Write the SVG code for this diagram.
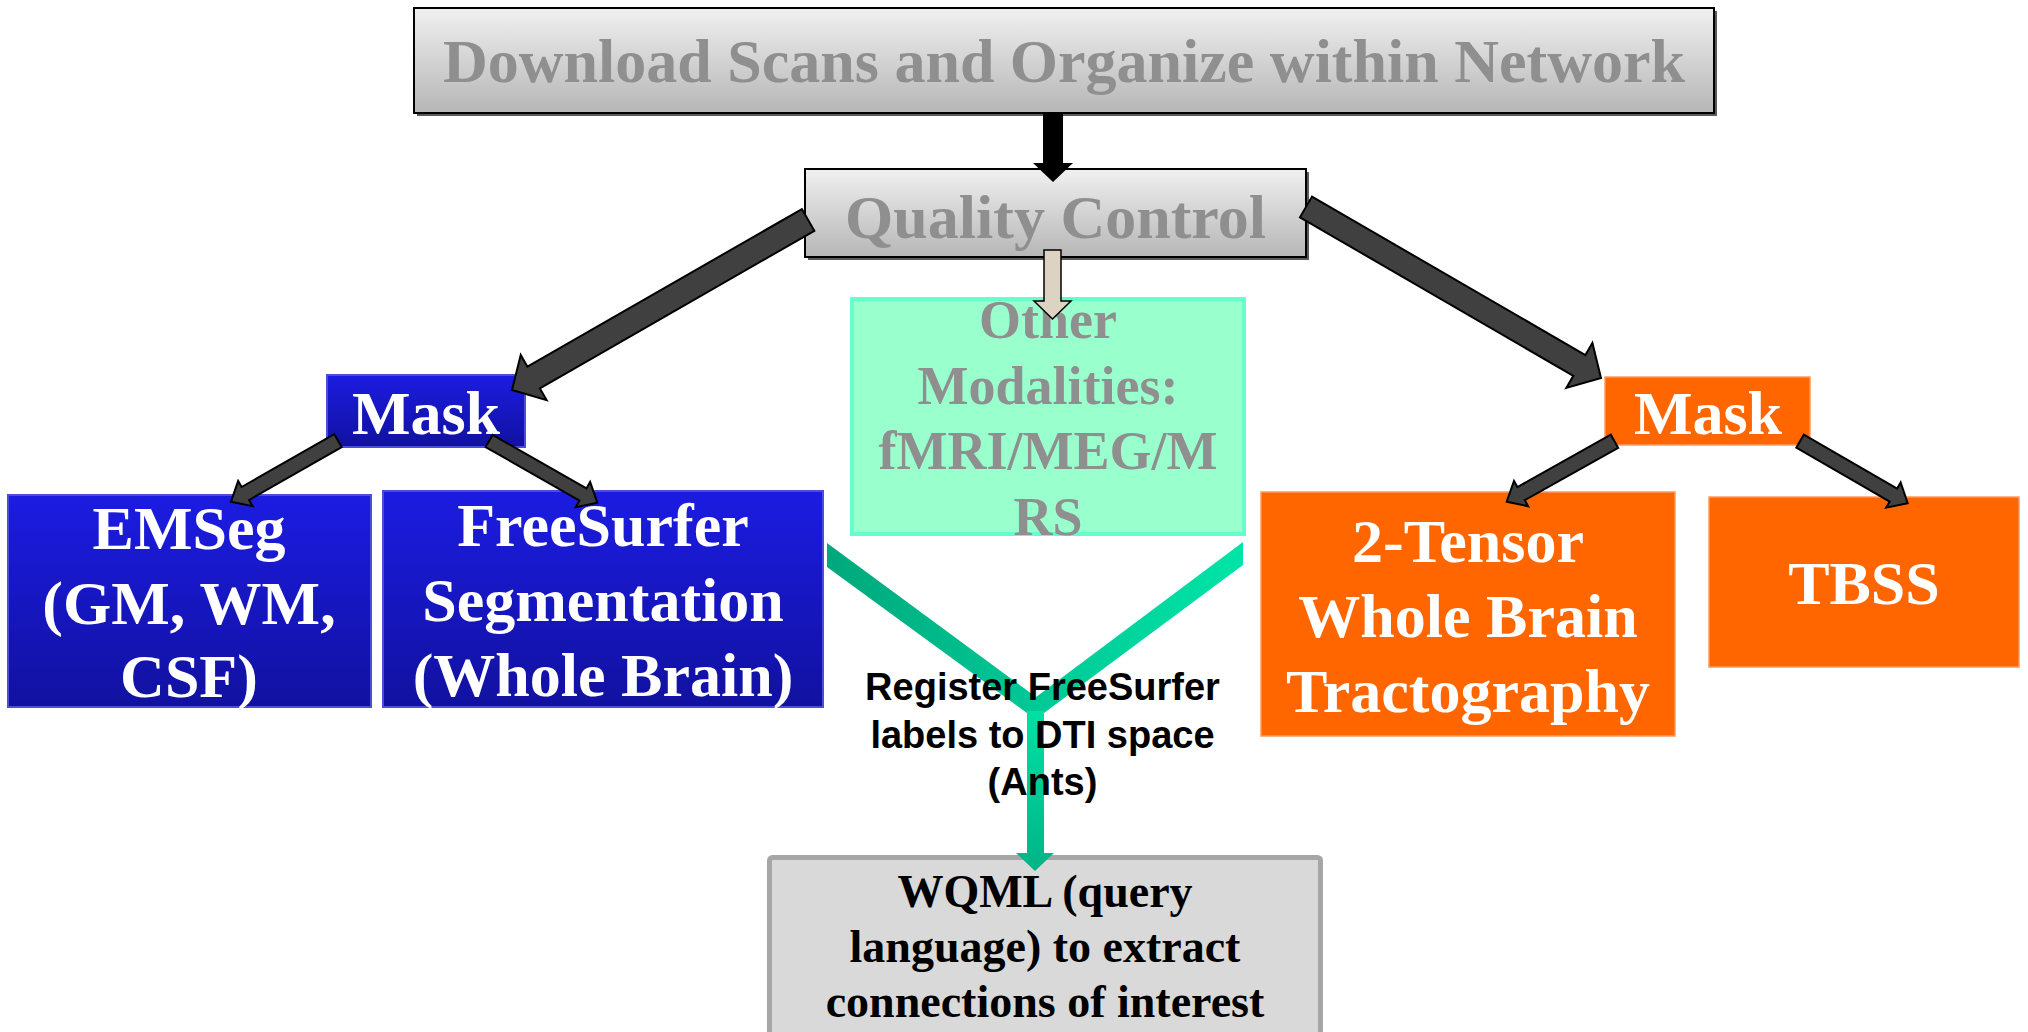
<svg xmlns="http://www.w3.org/2000/svg" width="2028" height="1032" viewBox="0 0 2028 1032">
<defs>
<linearGradient id="gGray" x1="0" y1="0" x2="0" y2="1"><stop offset="0" stop-color="#f0f0f0"/><stop offset="1" stop-color="#b6b6b6"/></linearGradient>
<linearGradient id="gBlue" x1="0" y1="0" x2="0" y2="1"><stop offset="0" stop-color="#1c1ce2"/><stop offset="1" stop-color="#1111a0"/></linearGradient>
<linearGradient id="gArms" x1="827" y1="0" x2="1243" y2="0" gradientUnits="userSpaceOnUse"><stop offset="0" stop-color="#00a87b"/><stop offset="0.5" stop-color="#00c896"/><stop offset="1" stop-color="#00e4a7"/></linearGradient>
<linearGradient id="gStem" x1="0" y1="705" x2="0" y2="871" gradientUnits="userSpaceOnUse"><stop offset="0" stop-color="#00e2a5"/><stop offset="1" stop-color="#00b486"/></linearGradient>
</defs>
<style>
.gray{fill:url(#gGray);stroke:#000;stroke-width:2}
.shadow{fill:#5a5a5a}
.blue{fill:url(#gBlue);stroke:#4d4dd8;stroke-width:2}
.orange{fill:#ff6600;stroke:#ff9a5c;stroke-width:1.5}
.serif{font-family:"Liberation Serif","Times New Roman",serif;font-weight:bold;text-anchor:middle}
.t62{font-size:62px}
.gt{fill:#8f8f8f}
.wt{fill:#ffffff}
.blk{fill:#000000}
.arr{fill:#404040;stroke:#000;stroke-width:2;stroke-linejoin:miter}
.lbl{font-family:"Liberation Sans",Arial,sans-serif;font-weight:bold;font-size:38px;text-anchor:middle;fill:#000}
</style>
<rect width="2028" height="1032" fill="#ffffff"/>

<g id="download">
<rect class="shadow" x="417" y="11" width="1300" height="105"/>
<rect class="gray" x="414" y="8" width="1300" height="105"/>
<text class="serif t62 gt" x="1064" y="82">Download Scans and Organize within Network</text>
</g>

<g id="quality-control">
<rect class="shadow" x="808" y="172" width="501" height="88"/>
<rect class="gray" x="805" y="169" width="501" height="88"/>
<text class="serif t62 gt" x="1055.5" y="238">Quality Control</text>
</g>

<g id="mask-left">
<rect class="blue" x="327" y="375" width="198" height="72"/>
<text class="serif t62 wt" x="426" y="434">Mask</text>
</g>

<g id="emseg">
<rect class="blue" x="8" y="495" width="363" height="212"/>
<text class="serif t62 wt" x="189" y="549">EMSeg</text>
<text class="serif t62 wt" x="189" y="624">(GM, WM,</text>
<text class="serif t62 wt" x="189" y="697">CSF)</text>
</g>

<g id="freesurfer">
<rect class="blue" x="383" y="491" width="440" height="216"/>
<text class="serif t62 wt" x="603" y="545.5">FreeSurfer</text>
<text class="serif t62 wt" x="603" y="621">Segmentation</text>
<text class="serif t62 wt" x="603" y="696">(Whole Brain)</text>
</g>

<g id="other-modalities">
<rect x="852" y="299" width="392" height="235" fill="#99ffcc" stroke="#66ffcc" stroke-width="4"/>
<text class="serif gt" font-size="54" x="1048" y="338">Other</text>
<text class="serif gt" font-size="54" x="1048" y="404">Modalities:</text>
<text class="serif gt" font-size="54" x="1048" y="469">fMRI/MEG/M</text>
<text class="serif gt" font-size="54" x="1048" y="535">RS</text>
</g>

<g id="mask-right">
<rect class="orange" x="1605" y="377" width="205" height="68"/>
<text class="serif t62 wt" x="1708" y="434">Mask</text>
</g>

<g id="tensor">
<rect class="orange" x="1261" y="492" width="414" height="244"/>
<text class="serif t62 wt" x="1468" y="562">2-Tensor</text>
<text class="serif t62 wt" x="1468" y="637">Whole Brain</text>
<text class="serif t62 wt" x="1468" y="712">Tractography</text>
</g>

<g id="tbss">
<rect class="orange" x="1709" y="497" width="310" height="170"/>
<text class="serif t62 wt" x="1864" y="604">TBSS</text>
</g>

<g id="wqml">
<rect x="769.5" y="857.5" width="551" height="200" rx="3" fill="#d9d9d9" stroke="#a6a6a6" stroke-width="5"/>
<text class="serif blk" font-size="46" x="1045" y="907">WQML (query</text>
<text class="serif blk" font-size="46" x="1045" y="962">language) to extract</text>
<text class="serif blk" font-size="46" x="1045" y="1017">connections of interest</text>
</g>

<g id="connectors">
<polygon points="1043,113 1063,113 1063,163 1073,163 1053,182 1033,163 1043,163" fill="#000"/>
<polygon points="1044,250 1061,250 1061,301 1071,301 1052.5,319 1034,301 1044,301" fill="#dcd3c2" stroke="#000" stroke-width="1.5"/>
<polygon class="arr" transform="translate(512,390) rotate(150.13)" points="0,0 -25,-26 -25,-12.5 -341.5,-12.5 -341.5,12.5 -25,12.5 -25,26"/>
<polygon class="arr" transform="translate(1601,378) rotate(30.1)" points="0,0 -25,-26 -25,-12 -341,-12 -341,12 -25,12 -25,26"/>
<polygon class="arr" transform="translate(231,501.7) rotate(150.3)" points="0,0 -16.5,-14.5 -16.5,-7.5 -123.2,-7.5 -123.2,7.5 -16.5,7.5 -16.5,14.5"/>
<polygon class="arr" transform="translate(597.3,502.7) rotate(29.7)" points="0,0 -16.5,-14.5 -16.5,-7 -124.6,-7 -124.6,7 -16.5,7 -16.5,14.5"/>
<polygon class="arr" transform="translate(1506.7,501.7) rotate(150.7)" points="0,0 -16.5,-14.5 -16.5,-7.5 -123.6,-7.5 -123.6,7.5 -16.5,7.5 -16.5,14.5"/>
<polygon class="arr" transform="translate(1907.7,503.3) rotate(30)" points="0,0 -16.5,-14.5 -16.5,-7.5 -124.3,-7.5 -124.3,7.5 -16.5,7.5 -16.5,14.5"/>
<polygon points="827,543 1036,697 1243,542 1243,565 1044,713 1027,713 827,567" fill="url(#gArms)"/>
<polygon points="1027,711 1044,711 1044,853 1054,853 1035,871 1016,853 1027,853" fill="url(#gStem)"/>
<text class="lbl" x="1042.5" y="700">Register FreeSurfer</text>
<text class="lbl" x="1042.5" y="747.5">labels to DTI space</text>
<text class="lbl" x="1042.5" y="795">(Ants)</text>
</g>
</svg>
